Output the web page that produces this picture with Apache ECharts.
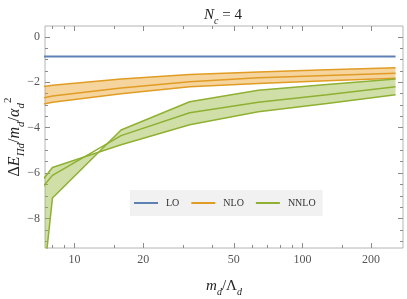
<!DOCTYPE html>
<html><head><meta charset="utf-8">
<script src="https://cdn.jsdelivr.net/npm/echarts@6/dist/echarts.min.js"></script>
<style>html,body{margin:0;padding:0;background:#fff}#c{width:407px;height:299px}</style>
</head><body><div id="c"></div>
<script>
// ---- data ----
const xs = [7, 8, 16, 32, 64, 128, 256];
const lo = [-0.86, -0.86, -0.86, -0.86, -0.86, -0.86, -0.86];
const nloLow = [-3.0, -2.88, -2.5, -2.2, -2.05, -1.93, -1.82];
const nloMid = [-2.72, -2.6, -2.25, -1.98, -1.8, -1.7, -1.6];
const nloHigh = [-2.22, -2.13, -1.86, -1.66, -1.55, -1.45, -1.36];
const nnloA = [-6.5, -5.75, -4.75, -3.87, -3.3, -2.93, -2.55];
const nnloMid = [-6.8, -6.1, -4.35, -3.34, -2.88, -2.55, -2.2];
const nnloC = [-12.5, -7.1, -4.1, -2.86, -2.35, -2.1, -1.85];
const xMajor = [10, 20, 50, 100, 200];
const xMinor = [8, 9, 15, 30, 40, 60, 70, 80, 90, 150];
const yMajor = [-8, -6, -4, -2, 0];
const yMinor = [-9, -8.5, -7.5, -7, -6.5, -5.5, -5, -4.5, -3.5, -3, -2.5, -1.5, -1, -0.5];
const legendNames = ['LO', 'NLO', 'NNLO'];

const C_LO = '#5e81b5', C_NLO = '#e19c24', C_NNLO = '#8fb032';
const serif = '"Liberation Serif","DejaVu Serif",serif';
const XMIN = 7.42, XMAX = 276, YMIN = -9.3, YMAX = 0.48;
const tickCol = '#8c8c8c';
const L = v => Math.log10(v);

const pairs = arr => xs.map((x, i) => [L(x), arr[i]]);

function xAx(pos, ticks, len, labels, extra) {
  return Object.assign({
    type: 'value', position: pos, min: L(XMIN), max: L(XMAX),
    axisLine: { show: false, onZero: false }, splitLine: { show: false },
    axisTick: { show: true, inside: true, length: len, customValues: ticks.map(L), lineStyle: { color: tickCol, width: 1 } },
    axisLabel: labels ? { show: true, customValues: xMajor.map(L), margin: 6, color: '#555', fontFamily: serif, fontSize: 12,
      formatter: v => String(Math.round(Math.pow(10, v))) } : { show: false }
  }, extra || {});
}
function yAx(pos, ticks, len, labels, extra) {
  return Object.assign({
    type: 'value', position: pos, min: YMIN, max: YMAX,
    axisLine: { show: false, onZero: false }, splitLine: { show: false },
    axisTick: { show: true, inside: true, length: len, customValues: ticks, lineStyle: { color: tickCol, width: 1 } },
    axisLabel: labels ? { show: true, customValues: yMajor, margin: 5, color: '#555', fontFamily: serif, fontSize: 12,
      formatter: v => String(Math.round(v)).replace('-', '\u2212') } : { show: false }
  }, extra || {});
}

const base = { fontFamily: serif, color: '#222', fontWeight: 'normal', lineHeight: 22 };
const rich = {
  n: Object.assign({}, base, { fontSize: 15, verticalAlign: 'middle' }),
  i: Object.assign({}, base, { fontSize: 15, fontStyle: 'italic', verticalAlign: 'middle' }),
  s: Object.assign({}, base, { fontSize: 10, fontStyle: 'italic', verticalAlign: 'bottom' }),
  p: Object.assign({}, base, { fontSize: 10, verticalAlign: 'top' })
};
const richY = {
  n: Object.assign({}, base, { fontSize: 16, verticalAlign: 'middle', lineHeight: 24 }),
  i: Object.assign({}, base, { fontSize: 16, fontStyle: 'italic', verticalAlign: 'middle', lineHeight: 24 }),
  s: Object.assign({}, base, { fontSize: 11, fontStyle: 'italic', verticalAlign: 'bottom', lineHeight: 24 }),
  p: Object.assign({}, base, { fontSize: 11, verticalAlign: 'top', lineHeight: 24 })
};

const lineS = (name, data, color, w, extra) => Object.assign({
  name, type: 'line', data, symbol: 'none', showSymbol: false, silent: true, animation: false,
  lineStyle: { color, width: w }, itemStyle: { color }, xAxisIndex: 0, yAxisIndex: 0, clip: true, z: 3
}, extra || {});

// band polygon between two bounding curves, through the axes' own coordinate mapping
function band(name, lowArr, highArr, fill, z) {
  return {
    name, type: 'custom', silent: true, animation: false, xAxisIndex: 0, yAxisIndex: 0, z,
    data: [[L(xs[0]), lowArr[0]]],
    renderItem: function (params, api) {
      const pts = [];
      for (let i = 0; i < xs.length; i++) pts.push(api.coord([L(xs[i]), highArr[i]]));
      for (let i = xs.length - 1; i >= 0; i--) pts.push(api.coord([L(xs[i]), lowArr[i]]));
      const cs = params.coordSys;
      return {
        type: 'polygon', shape: { points: pts }, style: { fill: fill, stroke: null },
        clipPath: { type: 'rect', shape: { x: cs.x, y: cs.y, width: cs.width, height: cs.height } }
      };
    }
  };
}

const option = {
  animation: false,
  backgroundColor: '#fff',
  title: {
    text: '{i|N}{s|c}{n| = 4}', left: 199, top: -1,
    textStyle: { rich: rich }
  },
  grid: { left: 45, right: 4, top: 26, bottom: 51, show: true, borderColor: '#b4b4b4', borderWidth: 1,
    containLabel: false, outerBoundsMode: 'none' },
  legend: {
    data: legendNames, left: 130, top: 190, orient: 'horizontal',
    backgroundColor: '#f1f1f1', padding: [8, 7, 8, 4], itemGap: 12,
    icon: 'rect', itemWidth: 24, itemHeight: 2,
    textStyle: { fontFamily: serif, fontSize: 10, color: '#333', padding: [0, 0, 0, 3] },
    selectedMode: false
  },
  xAxis: [
    xAx('bottom', xMajor, 5, true, {
      name: '{i|m}{s|d}{n|/\u039B}{s|d}', nameLocation: 'middle', nameGap: 27, nameMoveOverlap: false,
      nameTextStyle: { rich: rich }
    }),
    xAx('bottom', xMinor, 3, false),
    xAx('top', xMajor, 5, false),
    xAx('top', xMinor, 3, false)
  ],
  yAxis: [
    yAx('left', yMajor, 5, true, {
      name: '{n|\u0394}{i|E}{s|\u03A0d}{n|/}{i|m}{s|d}{n|/}{i|\u03B1}{s|d}{p|2}',
      nameLocation: 'middle', nameGap: 18, nameRotate: 90, nameMoveOverlap: false,
      nameTextStyle: { rich: richY }
    }),
    yAx('left', yMinor, 3, false),
    yAx('right', yMajor, 5, false),
    yAx('right', yMinor, 3, false)
  ],
  series: [
    band('nloBand', nloLow, nloHigh, 'rgba(232,160,40,0.45)', 1),
    lineS('nloLow', pairs(nloLow), C_NLO, 1.5),
    lineS('nloHigh', pairs(nloHigh), C_NLO, 1.5),
    lineS('NLO', pairs(nloMid), C_NLO, 1.5),
    band('nnloBand', nnloA, nnloC, 'rgba(150,185,60,0.45)', 2),
    lineS('nnloA', pairs(nnloA), C_NNLO, 1.5),
    lineS('nnloC', pairs(nnloC), C_NNLO, 1.5),
    lineS('NNLO', pairs(nnloMid), C_NNLO, 1.5),
    lineS('LO', pairs(lo), C_LO, 2)
  ]
};
const chart = echarts.init(document.getElementById('c'), null, { renderer: 'canvas' });
chart.setOption(option);
</script></body></html>
